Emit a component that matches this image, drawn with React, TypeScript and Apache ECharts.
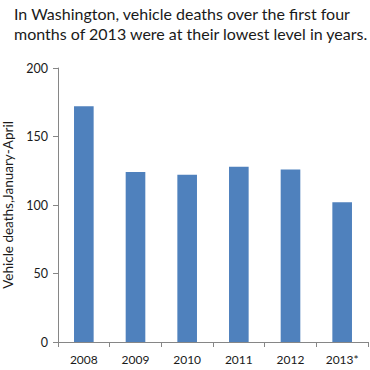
import React, { useEffect, useRef } from "react";
import * as echarts from "echarts";

const categories = ["2008", "2009", "2010", "2011", "2012", "2013*"];
const deaths = [172, 124, 122, 128, 126, 102];
const yTicks = [0, 50, 100, 150, 200];
const titleLines = [
  "In Washington, vehicle deaths over the first four",
  "months of 2013 were at their lowest level in years.",
];
const yAxisName = "Vehicle deaths,January-April";

export default function App() {
  const ref = useRef<HTMLDivElement>(null);
  useEffect(() => {
    if (!ref.current) return;
    const chart = echarts.init(ref.current, null, { renderer: "svg" });
    const font = "Lato, 'Open Sans', sans-serif";
    chart.setOption({
      animation: false,
      backgroundColor: "#ffffff",
      title: {
        text: titleLines.join("\n"),
        left: 9,
        top: -2,
        textStyle: {
          fontFamily: font,
          fontSize: 16,
          fontWeight: "normal",
          color: "#1a1a1a",
          lineHeight: 20,
        },
      },
      grid: {
        left: 58,
        right: 2,
        top: 68,
        bottom: 28,
        containLabel: false,
        outerBoundsMode: "none",
      },
      xAxis: {
        type: "category",
        data: categories,
        axisLine: { lineStyle: { color: "#868686" } },
        axisTick: { show: true, alignWithLabel: false, length: 5, lineStyle: { color: "#868686" } },
        axisLabel: { color: "#1a1a1a", fontFamily: font, fontSize: 12, margin: 11 },
      },
      yAxis: {
        type: "value",
        min: yTicks[0],
        max: yTicks[yTicks.length - 1],
        interval: 50,
        name: yAxisName,
        nameLocation: "middle",
        nameGap: 43,
        nameTextStyle: { fontFamily: font, fontSize: 13.5, color: "#1a1a1a" },
        axisLine: { show: true, lineStyle: { color: "#868686" } },
        axisTick: { show: true, length: 5, lineStyle: { color: "#868686" } },
        splitLine: { show: false },
        axisLabel: { color: "#1a1a1a", fontFamily: font, fontSize: 12.5, margin: 10 },
      },
      series: [
        {
          type: "bar",
          data: deaths,
          barWidth: "38%",
          itemStyle: { color: "#4F81BD" },
        },
      ],
    });
    return () => chart.dispose();
  }, []);
  return (
    <div
      ref={ref}
      style={{ position: "fixed", left: 0, top: 0, width: 370, height: 370 }}
    />
  );
}
